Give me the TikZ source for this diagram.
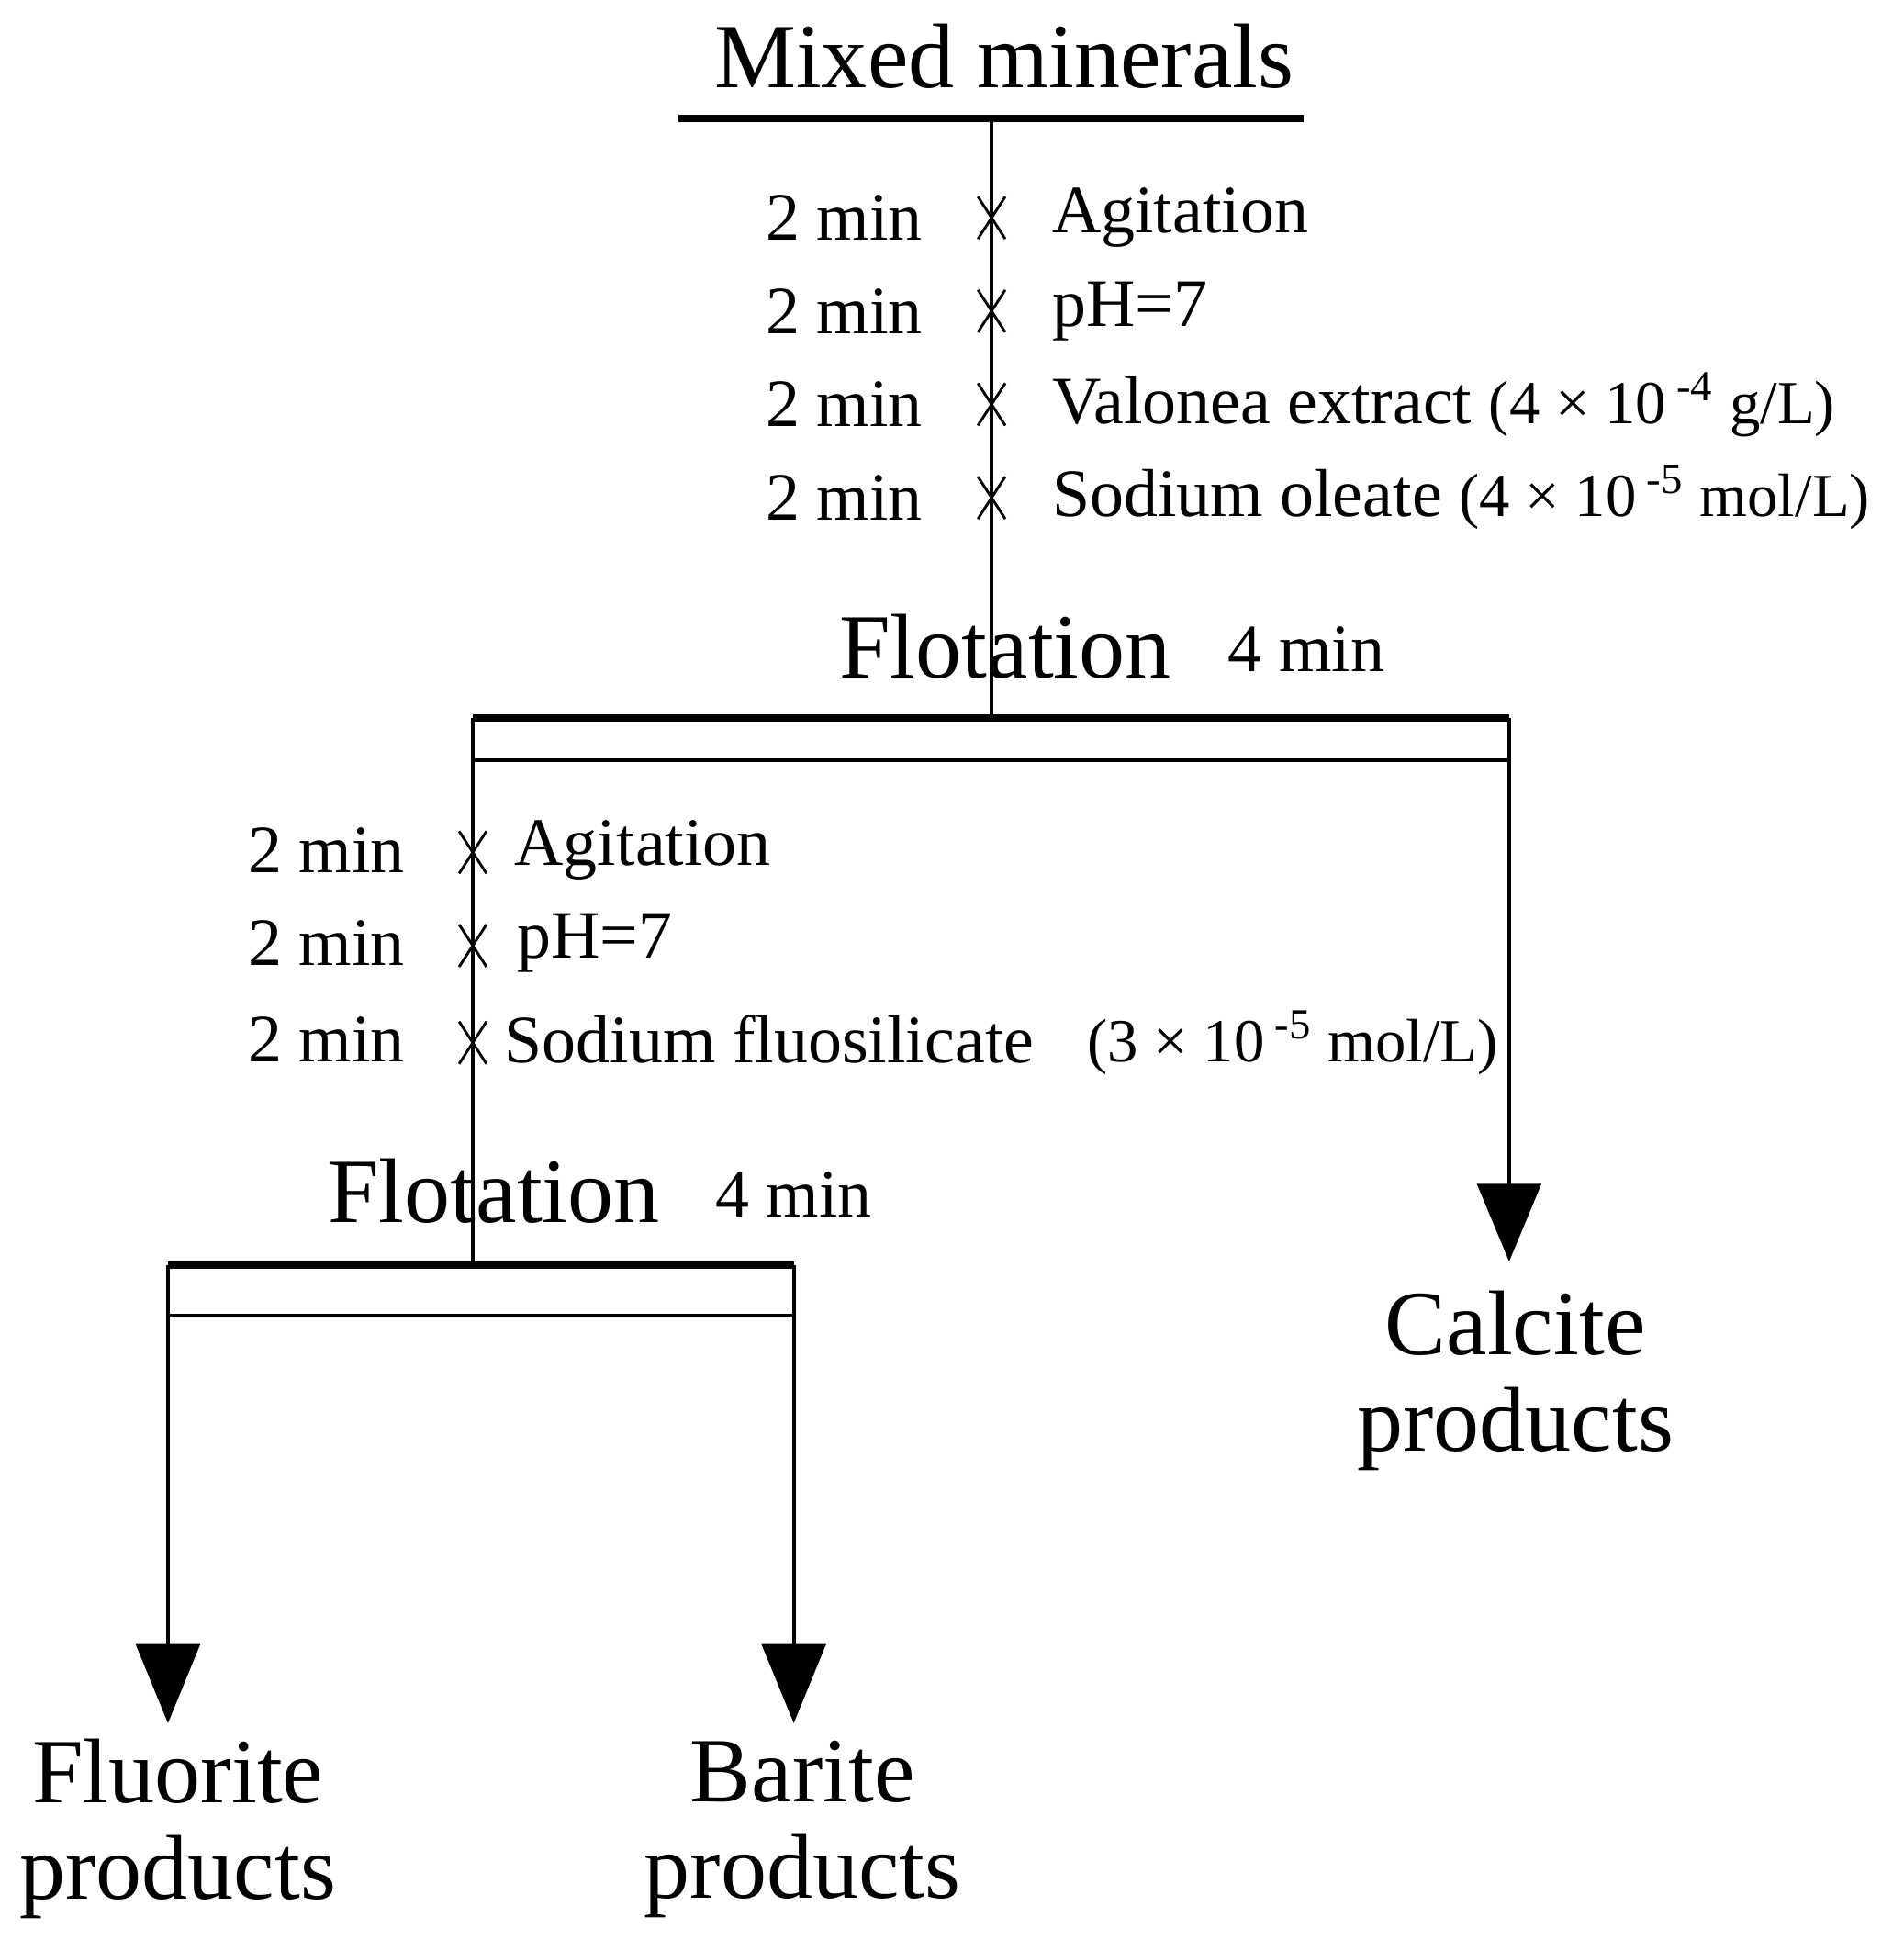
\documentclass[tikz,border=0pt]{standalone}
\usepackage{fontspec}
\setmainfont{Liberation Serif}
\begin{document}
\begin{tikzpicture}[x=0.01cm,y=-0.01cm,
  big/.style={font=\fontsize{21}{24}\selectfont,inner sep=0pt},
  mid/.style={font=\fontsize{15.5}{18}\selectfont,inner sep=0pt},
  thick line/.style={line width=1.6pt},
  thin line/.style={line width=0.8pt},
  tip/.style={fill=black,draw=black},
  cross/.style={line width=0.6pt}]
\newcommand{\smallpar}[1]{{\fontsize{14}{16}\selectfont #1}}
\useasboundingbox (0,0) rectangle (1530,1568);
% top
\node[big] (mixed) at (807,45) {Mixed minerals};
\coordinate (t1) at (545,95); \coordinate (t2) at (1048,95);
\draw[thick line] (t1) -- (t2);
\coordinate (v1a) at (797,95); \coordinate (v1b) at (797,577);
\draw[thin line] (v1a) -- (v1b);
\foreach \y in {175,250,325,400}{\draw[cross] (786,\y-17) -- (808,\y+17) (808,\y-17) -- (786,\y+17);}
\foreach \y/\n in {175/a,250/b,325/c,400/d}{\node[mid,anchor=east] (m\n) at (742,\y) {2 min};}
\node[mid,anchor=west] (s1) at (845,175) {Agitation};
\node[mid,anchor=west] (s2) at (845,250) {pH=7};
\node[mid,anchor=west] (s3) at (845,325) {Valonea extract \smallpar{(4 × 10\,\textsuperscript{-4} g/L)}};
\node[mid,anchor=west] (s4) at (845,400) {Sodium oleate \smallpar{(4 × 10\,\textsuperscript{-5} mol/L)}};
\node[big] (fl1) at (808,520) {Flotation};
\node[mid] (fm1) at (1050,522) {4 min};
% first bar
\coordinate (b1l) at (380,577); \coordinate (b1r) at (1213,577);
\coordinate (b1l2) at (380,611); \coordinate (b1r2) at (1213,611);
\draw[thick line] (b1l) -- (b1r);
\draw[thin line] (b1l2) -- (b1r2);
\coordinate (v2b) at (380,1017);
\draw[thin line] (b1l) -- (v2b);
\coordinate (c1) at (1213,955);
\draw[thin line] (b1r) -- (c1);
\draw[tip] (1188,952) -- (1238,952) -- (1213,1012) -- cycle;
\foreach \y in {685,760,838}{\draw[cross] (369,\y-17) -- (391,\y+17) (391,\y-17) -- (369,\y+17);}
\foreach \y/\n in {683/e,758/f,835/g}{\node[mid,anchor=east] (m\n) at (326,\y) {2 min};}
\node[mid,anchor=west] (s5) at (413,683) {Agitation};
\node[mid,anchor=west] (s6) at (415,758) {pH=7};
\node[mid,anchor=west] (s7) at (405,835) {Sodium fluosilicate};
\node[mid,anchor=west] (s8) at (873,838) {\smallpar{(3 × 10\,\textsuperscript{-5} mol/L)}};
\node[big] (fl2) at (397,957) {Flotation};
\node[mid] (fm2) at (638,960) {4 min};
% second bar
\coordinate (b2l) at (135,1017); \coordinate (b2r) at (638,1017);
\coordinate (b2l2) at (135,1057); \coordinate (b2r2) at (638,1057);
\draw[thick line] (b2l) -- (b2r);
\draw[thin line] (b2l2) -- (b2r2);
\coordinate (f1) at (135,1325); \coordinate (f2) at (638,1325);
\draw[thin line] (b2l) -- (f1);
\draw[thin line] (b2r) -- (f2);
\draw[tip] (110,1322) -- (160,1322) -- (135,1383) -- cycle;
\draw[tip] (613,1322) -- (663,1322) -- (638,1383) -- cycle;
\node[big,align=center] (calc) at (1218,1110) {Calcite\\[-2pt]products};
\node[big,align=center] (fluo) at (143,1470) {Fluorite\\[-2pt]products};
\node[big,align=center] (bari) at (645,1470) {Barite\\[-2pt]products};
\end{tikzpicture}
\end{document}
